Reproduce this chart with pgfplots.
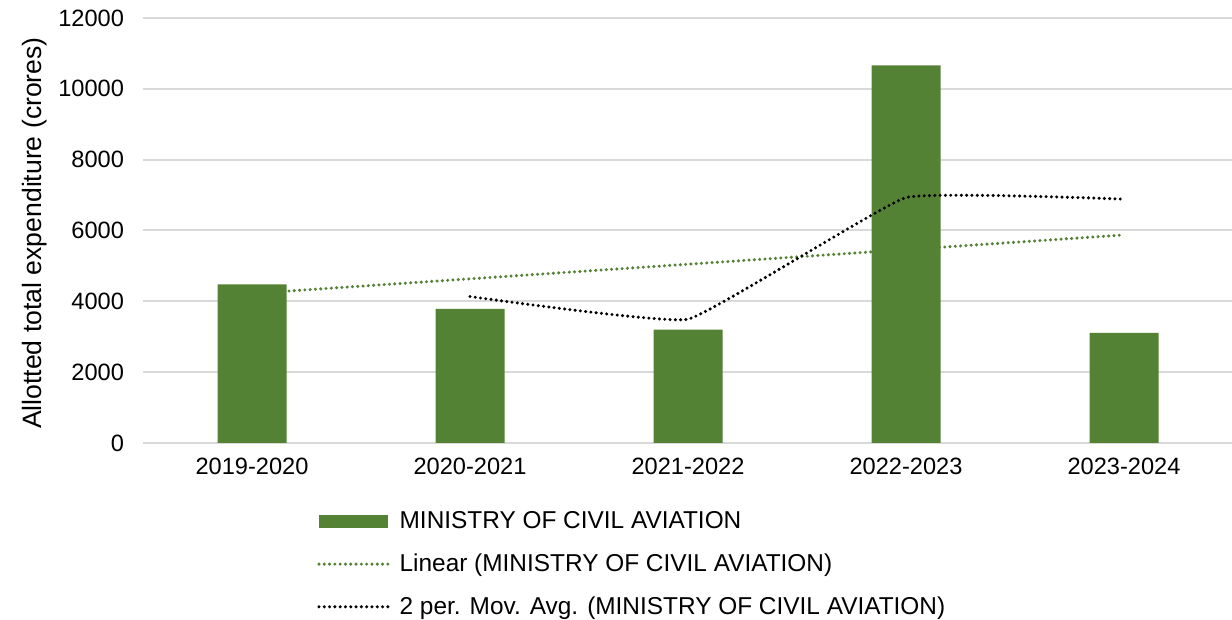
\documentclass[border=0pt]{standalone}
\usepackage{pgfplots}
\pgfplotsset{compat=1.18}
\usepackage{fontspec}
\setmainfont{Liberation Sans}
\definecolor{bargreen}{HTML}{548235}
\definecolor{gridgray}{HTML}{D9D9D9}
\tikzset{dotline/.style={line width=1.7pt, line cap=round, dash pattern=on 0pt off 2.65pt}}
\begin{document}
\begin{tikzpicture}[x=0.5pt,y=0.5pt]
\useasboundingbox (0,0) rectangle (1232,620);
\begin{axis}[
  at={(71.5pt,88.5pt)}, anchor=south west,
  scale only axis, width=545pt, height=212.5pt,
  xmin=-0.5, xmax=4.5, ymin=0, ymax=12000,
  xtick={0,1,2,3,4},
  xticklabels={2019-2020,2020-2021,2021-2022,2022-2023,2023-2024},
  ytick={0,2000,4000,6000,8000,10000,12000},
  scaled y ticks=false,
  /pgf/number format/assume math mode=true,
  /pgf/number format/1000 sep={},
  tick style={draw=none},
  axis line style={draw=none},
  ymajorgrids, grid style={gridgray, line width=1pt},
  font=\fontsize{11.8pt}{13pt}\selectfont,
  ticklabel style={font=\fontsize{11.8pt}{13pt}\selectfont},
  yticklabel style={xshift=-6pt},
  xticklabel style={yshift=-4pt},
  ylabel={Allotted total expenditure (crores)},
  ylabel style={font=\fontsize{13.3pt}{15pt}\selectfont, at={(axis description cs:-0.099,0.494)}, anchor=center},
  clip=false,
  legend style={at={(0.154,-0.142)}, anchor=north west, draw=none, fill=none,
    row sep=7pt, font=\fontsize{12.2pt}{14pt}\selectfont,
    /tikz/every even column/.append style={column sep=2pt},
    /tikz/every odd column/.append style={column sep=3pt}},
  legend cell align=left,
]
% linear trend (behind the bars)
\addplot[bargreen, dotline, forget plot]
  coordinates {(0,4222) (4,5874)};
% bars
\addplot[ybar, bar width=34.5pt, fill=bargreen, draw=none,
  legend image code/.code={\fill[bargreen] (0pt,-3.3pt) rectangle (34.5pt,3.3pt);}]
  coordinates {(0,4480) (1,3790) (2,3200) (3,10660) (4,3110)};
\addlegendentry{MINISTRY OF CIVIL AVIATION}
\addlegendimage{legend image code/.code={\draw[bargreen, dotline] (0pt,0pt) -- (34.5pt,0pt);}}
\addlegendentry{Linear (MINISTRY OF CIVIL AVIATION)}
% moving average
\addplot[black, dotline, smooth, tension=0.18,
  legend image code/.code={\draw[black, dotline] (0pt,0pt) -- (34.5pt,0pt);}]
  coordinates {(1,4135) (2,3495) (3,6930) (4,6885)};
\addlegendentry{2 per. Mov. Avg. (MINISTRY OF CIVIL AVIATION)}
\end{axis}
\end{tikzpicture}
\end{document}
